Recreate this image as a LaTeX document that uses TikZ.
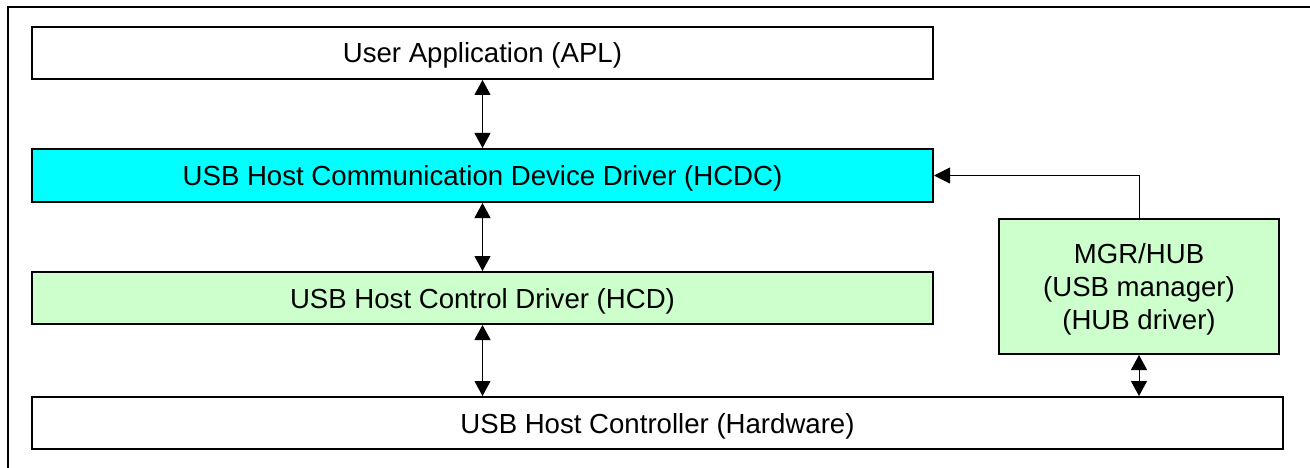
\documentclass[tikz,border=0pt]{standalone}
\usepackage{fontspec}
\setmainfont{Liberation Sans}
\usetikzlibrary{arrows.meta}
\definecolor{layercyan}{HTML}{00FFFF}
\definecolor{layergreen}{HTML}{CCFFCC}
\tikzset{
  layer/.style={draw=black, line width=2pt, rectangle, inner sep=0pt,
    text depth=0pt, align=center, font=\fontsize{27.6pt}{33pt}\selectfont},
  biarrow/.style={line width=1pt, {Triangle[length=15pt,width=16pt]}-{Triangle[length=15pt,width=16pt]}},
  onearrow/.style={line width=1pt, -{Triangle[length=16pt,width=16pt]}},
}
\begin{document}
\begin{tikzpicture}[x=1pt, y=-1pt]
  \useasboundingbox (0,0) rectangle (1310,468);
  % enclosing frame (only top and left edges fall on the page)
  \draw[line width=2.5pt] (1310,7) -- (8,7) -- (8,468);

  % software layers
  \node[layer, fill=white, minimum width=901pt, minimum height=52pt] (apl) at (482.5,53)
    {User Application (APL)};
  \node[layer, fill=layercyan, minimum width=901pt, minimum height=53pt] (hcdc) at (482.5,175.5)
    {USB Host Communication Device Driver (HCDC)};
  \node[layer, fill=layergreen, minimum width=901pt, minimum height=52pt] (hcd) at (482.5,298)
    {USB Host Control Driver (HCD)};
  \node[layer, fill=layergreen, minimum width=280pt, minimum height=135pt] (mgr) at (1139,286.5)
    {MGR/HUB\\(USB manager)\\(HUB driver)};
  \node[layer, fill=white, minimum width=1251pt, minimum height=52pt] (hw) at (657.5,423)
    {USB Host Controller (Hardware)};

  % connections between layers
  \draw[biarrow] (apl.south) -- (hcdc.north);
  \draw[biarrow] (hcdc.south) -- (hcd.north);
  \draw[biarrow] (hcd.south) -- (hcd.south |- hw.north);
  \draw[biarrow] (mgr.south) -- (mgr.south |- hw.north);
  \draw[onearrow] (mgr.north) |- (hcdc.east);
\end{tikzpicture}
\end{document}
